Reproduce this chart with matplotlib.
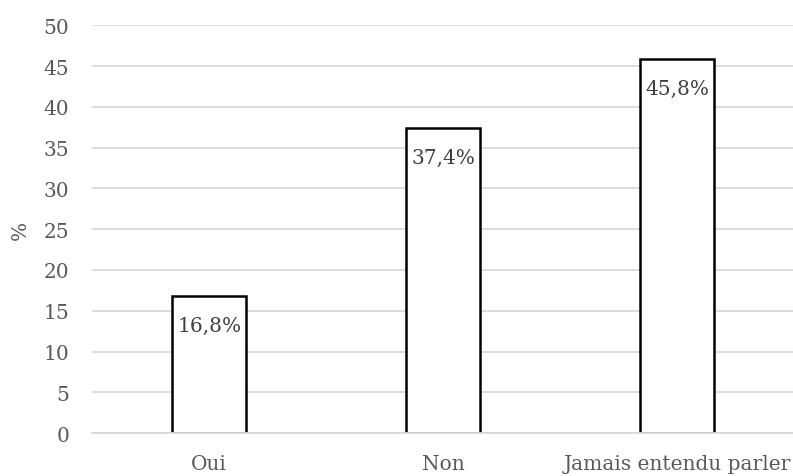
import matplotlib
matplotlib.use("Agg")
import matplotlib.pyplot as plt

categories = ["Oui", "Non", "Jamais entendu parler"]
values = [16.8, 37.4, 45.8]
value_labels = ["16,8%", "37,4%", "45,8%"]
y_ticks = [0, 5, 10, 15, 20, 25, 30, 35, 40, 45, 50]

TEXT = "#595959"
LABEL = "#404040"
GRID = "#d9d9d9"

plt.rcParams["font.family"] = ["DejaVu Serif"]

fig = plt.figure(figsize=(7.93, 4.77), dpi=100)
ax = fig.add_axes([0.116, 0.090, 0.886, 0.855])

x = range(len(categories))
bars = ax.bar(x, values, width=0.316, color="white", edgecolor="black",
              linewidth=1.8, zorder=3)

# value labels sit inside the top of each bar
for rect, lab in zip(bars, value_labels):
    ax.annotate(lab, (rect.get_x() + rect.get_width() / 2, rect.get_height()),
                xytext=(0, -14), textcoords="offset points",
                ha="center", va="top", fontsize=14.5, color=LABEL, zorder=4)

ax.set_xlim(-0.5, 2.5)
ax.set_ylim(0, 50)
ax.set_yticks(y_ticks)
ax.set_xticks(list(x))
ax.set_xticklabels(categories)
ax.tick_params(axis="both", length=0, labelsize=14.5, colors=TEXT)
ax.tick_params(axis="y", pad=16.5)
ax.tick_params(axis="x", pad=15)

ax.yaxis.grid(True, color=GRID, linewidth=1.3, zorder=0)
for s in ["top", "right", "left"]:
    ax.spines[s].set_visible(False)
ax.spines["bottom"].set_color(GRID)
ax.spines["bottom"].set_linewidth(1.3)
ax.spines["bottom"].set_zorder(5)

ax.set_ylabel("%", fontsize=14.5, color=TEXT, labelpad=10)

fig.savefig("out.png", dpi=100)
